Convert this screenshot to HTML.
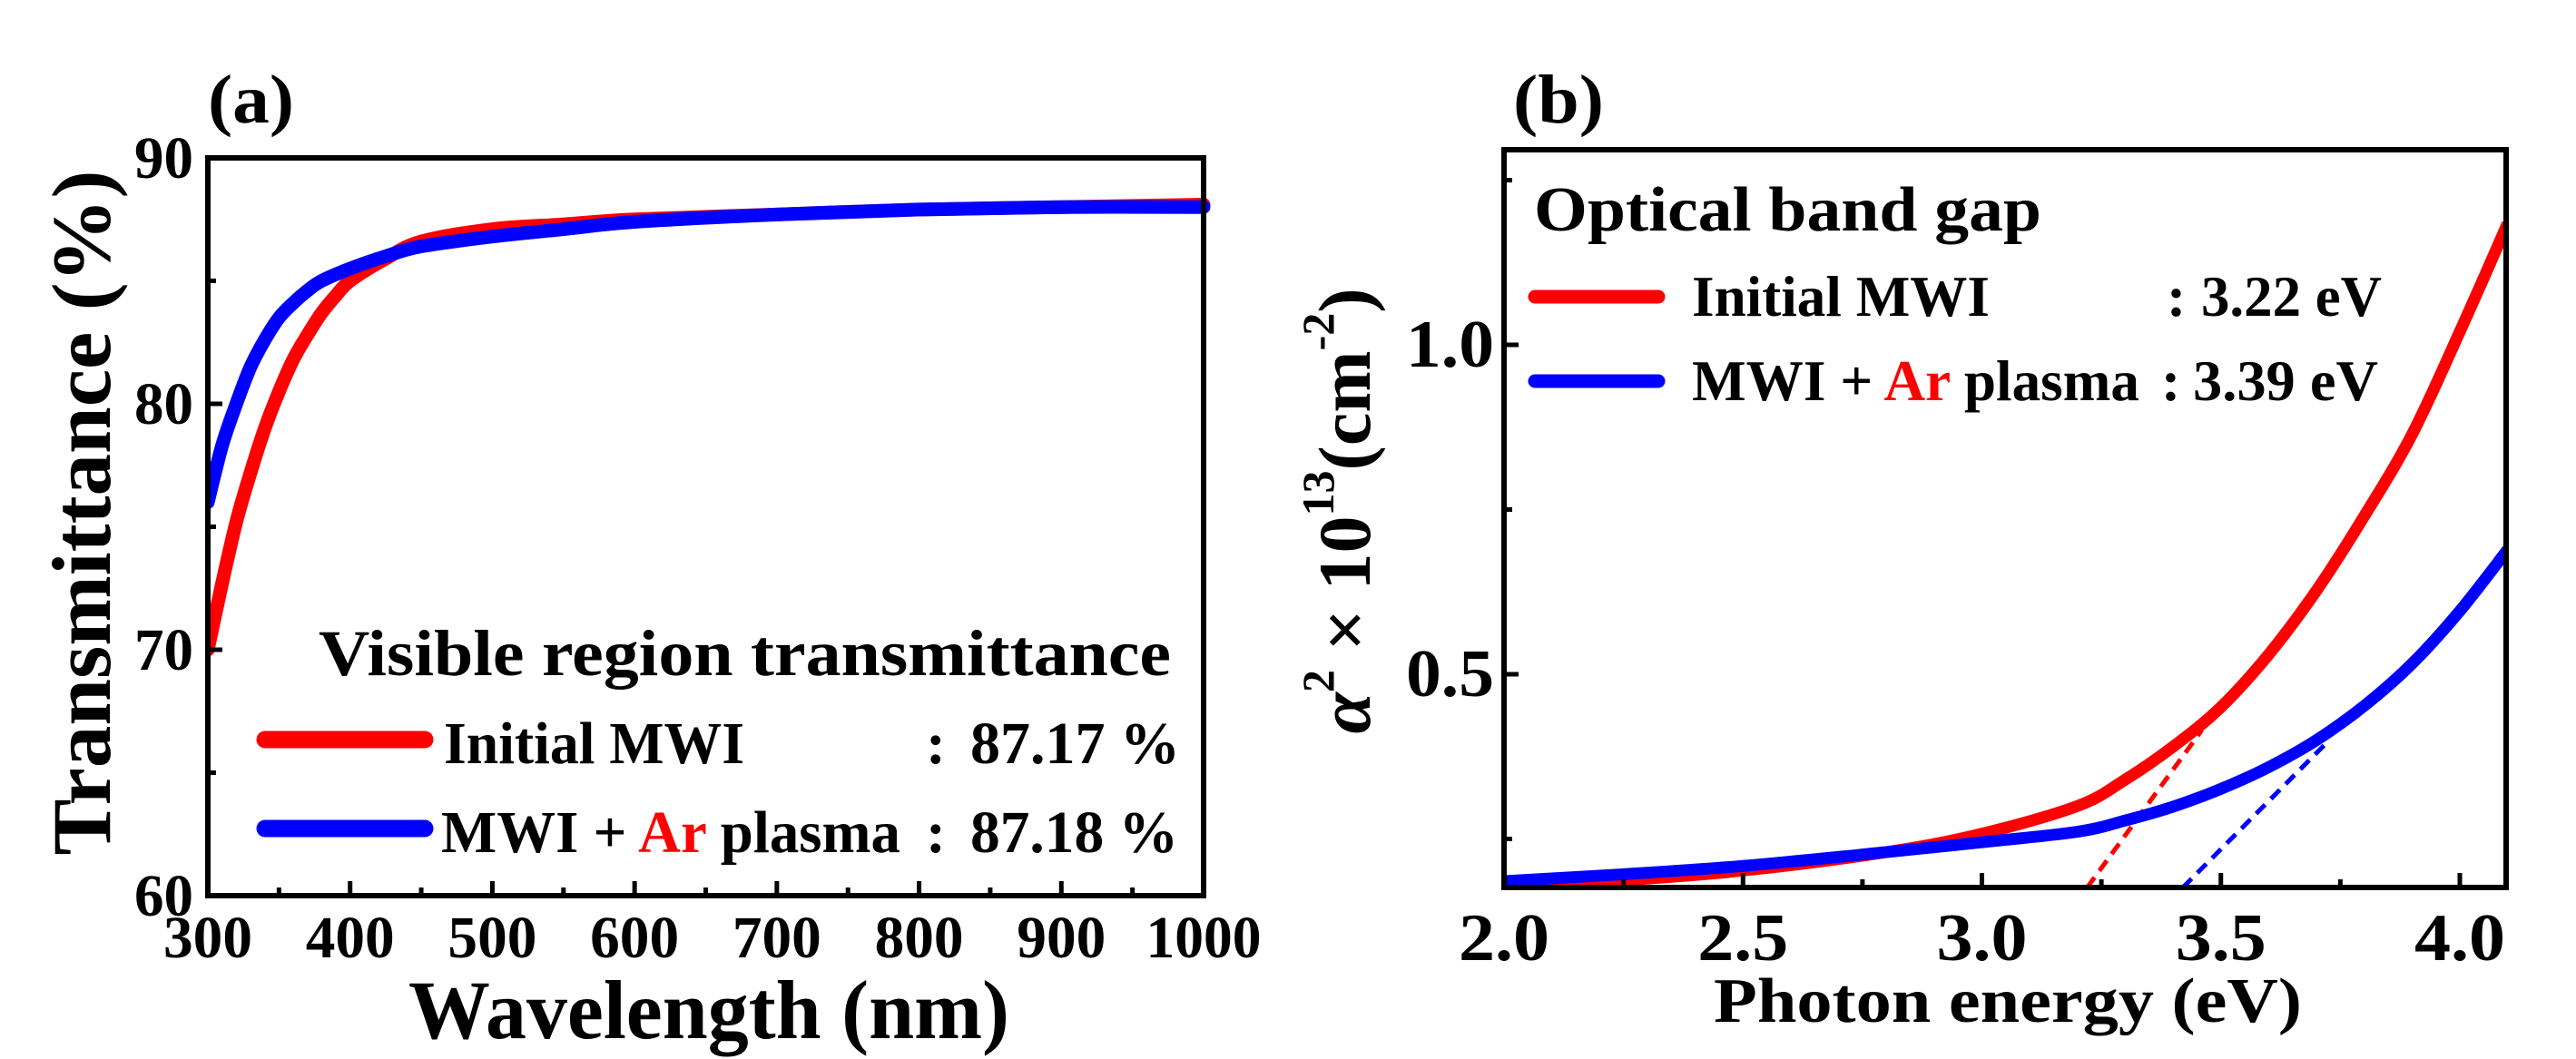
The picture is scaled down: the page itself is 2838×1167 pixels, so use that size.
<!DOCTYPE html>
<html><head><meta charset="utf-8"><style>
html,body{margin:0;padding:0;background:#fff}
svg{display:block}
text{font-family:"Liberation Serif",serif;font-weight:bold;fill:#000}
</style></head><body>
<svg id="fig" width="2838" height="1167" viewBox="0 0 2838 1167" xmlns="http://www.w3.org/2000/svg">
<g id="pa"></g>
<g id="pb"></g>
</svg>
<script>
// Panel (a) data
const aWavelength = [300,310,320,330,340,350,360,370,380,390,400,425,450,500,550,600,700,800,900,1000];
const aRedT = [70,72.7,75.2,77.2,79,80.5,81.8,82.8,83.7,84.4,85,85.9,86.6,87.1,87.3,87.5,87.7,87.9,88,88.1];
const aBlueWavelength = [300,310,320,330,340,350,360,370,380,400,425,450,500,550,600,700,800,900,1000];
const aBlueT = [76,78.3,80,81.5,82.6,83.5,84.1,84.6,85,85.5,86,86.4,86.8,87.1,87.4,87.7,87.9,88,88];
const aXTicks = [300,400,500,600,700,800,900,1000];
const aYTicks = [60,70,80,90];
// Panel (b) data
const bEnergy = [2.0,2.24,2.5,2.8,3.0,3.2,3.3,3.4,3.5,3.6,3.7,3.8,3.9,4.0,4.1];
const bRed = [0.178,0.187,0.202,0.23,0.258,0.300,0.340,0.39,0.45,0.53,0.627,0.74,0.864,1.02,1.184];
const bBlue = [0.186,0.196,0.209,0.23,0.245,0.261,0.278,0.299,0.326,0.359,0.4,0.452,0.516,0.596,0.689];
const bRedFitX = [3.22,3.46];
const bRedFitY = [0.176,0.415];
const bBlueFitX = [3.42,3.72];
const bBlueFitY = [0.176,0.395];
const bXTicks = ["2.0","2.5","3.0","3.5","4.0"];
const bYTicks = ["0.5","1.0"];

const NS="http://www.w3.org/2000/svg";
function mk(parent,tag,attrs,txt){const e=document.createElementNS(NS,tag);for(const k in attrs)e.setAttribute(k,attrs[k]);if(txt!==undefined)e.textContent=txt;parent.appendChild(e);return e;}
function smooth(pts){let d="M"+pts[0][0]+","+pts[0][1];for(let i=0;i<pts.length-1;i++){const p0=pts[i-1]||pts[i],p1=pts[i],p2=pts[i+1],p3=pts[i+2]||p2;const c1x=p1[0]+(p2[0]-p0[0])/6,c1y=p1[1]+(p2[1]-p0[1])/6,c2x=p2[0]-(p3[0]-p1[0])/6,c2y=p2[1]-(p3[1]-p1[1])/6;d+=" C"+c1x+","+c1y+" "+c2x+","+c2y+" "+p2[0]+","+p2[1];}return d;}

// ---------- Panel A ----------
const A=document.getElementById('pa');
const aL=229,aR=1326,aT=174,aB=987;
const ax=v=>aL+(v-300)/700*(aR-aL);
const ay=v=>aB-(v-60)/30*(aB-aT);
let e;
e=mk(A,'text',{x:229,y:135,'font-size':76,textLength:95,lengthAdjust:'spacingAndGlyphs'},'(a)');

const clipA=mk(A,'clipPath',{id:'ca'});mk(clipA,'rect',{x:aL,y:aT-20,width:aR-aL+10,height:aB-aT+20});
const ga=mk(A,'g',{'clip-path':'url(#ca)'});
e=mk(ga,'path',{d:smooth(aWavelength.map((w,i)=>[ax(w),ay(aRedT[i])])),fill:'none',stroke:'#ff0000','stroke-width':15,'stroke-linecap':'round'});

e=mk(ga,'path',{d:smooth(aBlueWavelength.map((w,i)=>[ax(w),ay(aBlueT[i])])),fill:'none',stroke:'#0000ff','stroke-width':15,'stroke-linecap':'round'});

e=mk(A,'rect',{x:aL,y:aT,width:aR-aL,height:aB-aT,fill:'none',stroke:'#000','stroke-width':6});

aXTicks.forEach(t=>{mk(A,'line',{x1:ax(t),x2:ax(t),y1:aB,y2:aB-16,stroke:'#000','stroke-width':5});
 if(t<1000)mk(A,'line',{x1:ax(t+50),x2:ax(t+50),y1:aB,y2:aB-9,stroke:'#000','stroke-width':5});
 const w=t>=1000?127:98;
 e=mk(A,'text',{x:ax(t),y:1055,'font-size':66,'text-anchor':'middle',textLength:w,lengthAdjust:'spacingAndGlyphs'},String(t));
 });
aYTicks.forEach(t=>{mk(A,'line',{x1:aL,x2:aL+16,y1:ay(t),y2:ay(t),stroke:'#000','stroke-width':5});
 if(t<90)mk(A,'line',{x1:aL,x2:aL+9,y1:ay(t+5),y2:ay(t+5),stroke:'#000','stroke-width':5});
 e=mk(A,'text',{x:213,y:ay(t)+22,'font-size':66,'text-anchor':'end',textLength:65,lengthAdjust:'spacingAndGlyphs'},String(t));
 });
e=mk(A,'text',{x:781,y:1144,'font-size':92,'text-anchor':'middle',textLength:662,lengthAdjust:'spacingAndGlyphs'},'Wavelength (nm)');

e=mk(A,'text',{x:0,y:0,'font-size':92,'text-anchor':'middle',textLength:755,lengthAdjust:'spacingAndGlyphs',transform:'translate(121,565) rotate(-90)'},'Transmittance (%)');

e=mk(A,'text',{x:351,y:744,'font-size':72,textLength:939,lengthAdjust:'spacingAndGlyphs'},'Visible region transmittance');

e=mk(A,'line',{x1:292,x2:468,y1:815,y2:815,stroke:'#ff0000','stroke-width':19,'stroke-linecap':'round'});

e=mk(A,'text',{x:489,y:841,'font-size':66,textLength:331,lengthAdjust:'spacingAndGlyphs'},'Initial MWI');

mk(A,'text',{x:1020,y:841,'font-size':66},':');
mk(A,'text',{x:1069,y:841,'font-size':66,textLength:231,lengthAdjust:'spacingAndGlyphs'},'87.17 %');
e=mk(A,'line',{x1:292,x2:468,y1:913,y2:913,stroke:'#0000ff','stroke-width':19,'stroke-linecap':'round'});

e=mk(A,'text',{x:486,y:939,'font-size':66,textLength:506,lengthAdjust:'spacingAndGlyphs'});

e.innerHTML='MWI + <tspan fill="#ff0000">Ar</tspan> plasma';
mk(A,'text',{x:1020,y:939,'font-size':66},':');
mk(A,'text',{x:1069,y:939,'font-size':66,textLength:229,lengthAdjust:'spacingAndGlyphs'},'87.18 %');

// ---------- Panel B ----------
const B=document.getElementById('pb');
const bL=1657,bR=2761,bT=165,bBt=978;
const bx=v=>bL+(v-2)*526.5;
const by=v=>743-(v-0.5)*726;
e=mk(B,'text',{x:1667,y:135,'font-size':76,textLength:100,lengthAdjust:'spacingAndGlyphs'},'(b)');

const clipB=mk(B,'clipPath',{id:'cb'});mk(clipB,'rect',{x:bL,y:bT,width:bR-bL,height:bBt-bT});
const gb=mk(B,'g',{'clip-path':'url(#cb)'});
e=mk(gb,'path',{d:'M'+bx(bRedFitX[0])+','+by(bRedFitY[0])+' L'+bx(bRedFitX[1])+','+by(bRedFitY[1]),stroke:'#ff0000','stroke-width':5,'stroke-dasharray':'14,9',fill:'none'});

e=mk(gb,'path',{d:'M'+bx(bBlueFitX[0])+','+by(bBlueFitY[0])+' L'+bx(bBlueFitX[1])+','+by(bBlueFitY[1]),stroke:'#0000ff','stroke-width':5,'stroke-dasharray':'14,9',fill:'none'});

e=mk(gb,'path',{d:smooth(bEnergy.map((x,i)=>[bx(x),by(bRed[i])])),fill:'none',stroke:'#ff0000','stroke-width':13});

e=mk(gb,'path',{d:smooth(bEnergy.map((x,i)=>[bx(x),by(bBlue[i])])),fill:'none',stroke:'#0000ff','stroke-width':13});

e=mk(B,'rect',{x:bL,y:bT,width:bR-bL,height:bBt-bT,fill:'none',stroke:'#000','stroke-width':6});

bXTicks.forEach(s=>{const t=parseFloat(s);mk(B,'line',{x1:bx(t),x2:bx(t),y1:bBt,y2:bBt-16,stroke:'#000','stroke-width':5});
 mk(B,'line',{x1:bx(t+0.25),x2:bx(t+0.25),y1:bBt,y2:bBt-9,stroke:'#000','stroke-width':5});
 e=mk(B,'text',{x:bx(t),y:1058,'font-size':74,'text-anchor':'middle',textLength:100,lengthAdjust:'spacingAndGlyphs'},s);
 });
bYTicks.forEach(s=>{const t=parseFloat(s);mk(B,'line',{x1:bL,x2:bL+16,y1:by(t),y2:by(t),stroke:'#000','stroke-width':5});
 e=mk(B,'text',{x:1646,y:by(t)+24,'font-size':74,'text-anchor':'end',textLength:97,lengthAdjust:'spacingAndGlyphs'},s);
 });
[0.25,0.75,1.25].forEach(t=>mk(B,'line',{x1:bL,x2:bL+9,y1:by(t),y2:by(t),stroke:'#000','stroke-width':5}));
e=mk(B,'text',{x:2212,y:1126,'font-size':70,'text-anchor':'middle',textLength:648,lengthAdjust:'spacingAndGlyphs'},'Photon energy (eV)');

e=mk(B,'text',{x:0,y:0,'font-size':82,'text-anchor':'middle',transform:'translate(1509,563) rotate(-90)'});

e.innerHTML='<tspan font-style="italic" font-family="Liberation Serif">α</tspan><tspan font-size="50" dy="-40">2</tspan><tspan dy="40"> × 10</tspan><tspan font-size="50" dy="-40">13</tspan><tspan dy="40">(cm</tspan><tspan font-size="50" dy="-40">-2</tspan><tspan dy="40">)</tspan>';
e=mk(B,'text',{x:1690,y:254,'font-size':70,textLength:559,lengthAdjust:'spacingAndGlyphs'},'Optical band gap');

e=mk(B,'line',{x1:1691,x2:1827,y1:327,y2:327,stroke:'#ff0000','stroke-width':15,'stroke-linecap':'round'});

e=mk(B,'text',{x:1864,y:348,'font-size':64,textLength:328,lengthAdjust:'spacingAndGlyphs'},'Initial MWI');

mk(B,'text',{x:2387,y:348,'font-size':64},':');
mk(B,'text',{x:2425,y:348,'font-size':64,textLength:199,lengthAdjust:'spacingAndGlyphs'},'3.22 eV');
e=mk(B,'line',{x1:1691,x2:1827,y1:420,y2:420,stroke:'#0000ff','stroke-width':15,'stroke-linecap':'round'});

e=mk(B,'text',{x:1864,y:441,'font-size':64,textLength:493,lengthAdjust:'spacingAndGlyphs'});

e.innerHTML='MWI + <tspan fill="#ff0000">Ar</tspan> plasma';
mk(B,'text',{x:2381,y:441,'font-size':64},':');
mk(B,'text',{x:2416,y:441,'font-size':64,textLength:204,lengthAdjust:'spacingAndGlyphs'},'3.39 eV');
</script>
</body></html>
